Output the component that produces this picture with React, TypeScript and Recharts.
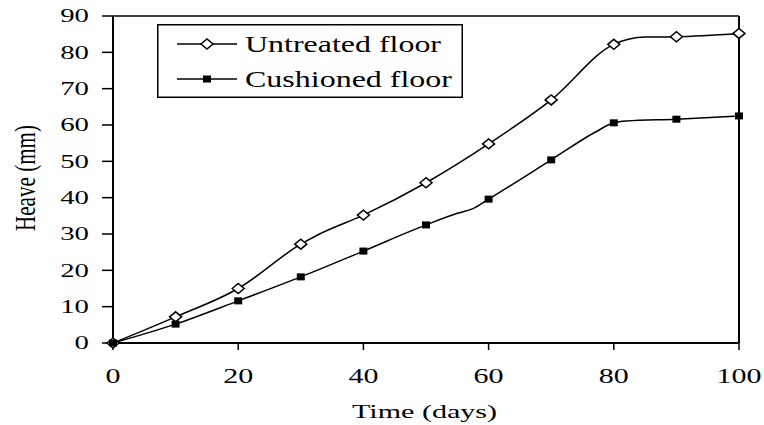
import React from 'react';
import {
  LineChart,
  Line,
  XAxis,
  YAxis,
  Legend,
  ReferenceLine,
} from 'recharts';

// measured points (markers at every 10 days, extra unmarked points for the curve shape)
const untreatedDays = [0, 10, 20, 30, 33, 40, 50, 60, 70, 80, 85, 90, 100];
const untreatedHeave = [0, 7.2, 15, 27.2, 30, 35.2, 44.1, 54.8, 66.9, 82.2, 84.2, 84.3, 85.2];

const cushionedDays = [0, 10, 20, 30, 40, 50, 55, 57.5, 60, 70, 77, 80, 82, 90, 100];
const cushionedHeave = [0, 5.2, 11.6, 18.2, 25.3, 32.5, 35.7, 37, 39.6, 50.4, 58, 60.6, 61.1, 61.6, 62.5];

const xTicks = [0, 20, 40, 60, 80, 100];
const yTicks = [0, 10, 20, 30, 40, 50, 60, 70, 80, 90];

const untreatedData = untreatedDays.map((day, i) => ({ day, heave: untreatedHeave[i] }));
const cushionedData = cushionedDays.map((day, i) => ({ day, heave: cushionedHeave[i] }));

const serif: React.CSSProperties = { fontFamily: "'Liberation Serif', 'Times New Roman', Times, serif" };

const Diamond = ({ cx, cy }: { cx: number; cy: number }) => (
  <path
    d={`M${cx - 6},${cy} L${cx},${cy - 5} L${cx + 6},${cy} L${cx},${cy + 5} Z`}
    fill="#fff"
    stroke="#000"
    strokeWidth={1.5}
  />
);

const Square = ({ cx, cy }: { cx: number; cy: number }) => (
  <rect x={cx - 4} y={cy - 3.5} width={8} height={7} fill="#000" />
);

const diamondDot = (props: any) =>
  props.payload.day % 10 === 0 ? (
    <Diamond key={props.key} cx={props.cx} cy={props.cy} />
  ) : (
    <g key={props.key} />
  );

const squareDot = (props: any) =>
  props.payload.day % 10 === 0 ? (
    <Square key={props.key} cx={props.cx} cy={props.cy} />
  ) : (
    <g key={props.key} />
  );

// the source picture is stretched sideways, so the labels are too
const XTick = (props: any) => {
  const { x, y, payload } = props;
  return (
    <text
      transform={`translate(${x},${y}) scale(1.5,1)`}
      textAnchor="middle"
      dy="0.71em"
      style={serif}
      fontSize={20}
      fill="#000"
    >
      {payload.value}
    </text>
  );
};

const YTick = (props: any) => {
  const { x, y, payload } = props;
  return (
    <text
      transform={`translate(${x},${y}) scale(1.6,1)`}
      textAnchor="end"
      dy="0.355em"
      style={serif}
      fontSize={18}
      fill="#000"
    >
      {payload.value}
    </text>
  );
};

const LegendBox = () => (
  <svg width={306} height={74} style={{ display: 'block' }}>
    <rect x={0.75} y={0.75} width={304.5} height={72.5} fill="#fff" stroke="#000" strokeWidth={1.5} />
    <line x1={20} x2={80} y1={20} y2={20} stroke="#000" strokeWidth={1.5} />
    <Diamond cx={50} cy={20} />
    <text x={88} y={28} style={serif} fontSize={23} textLength={196} lengthAdjust="spacingAndGlyphs">
      Untreated floor
    </text>
    <line x1={20} x2={80} y1={55} y2={55} stroke="#000" strokeWidth={1.5} />
    <Square cx={50} cy={55} />
    <text x={88} y={63} style={serif} fontSize={23} textLength={207} lengthAdjust="spacingAndGlyphs">
      Cushioned floor
    </text>
  </svg>
);

export default function App() {
  return (
    <div style={{ position: 'absolute', left: 0, top: 0, width: 764, height: 425, background: '#fff' }}>
      <LineChart width={764} height={425} margin={{ top: 16, right: 25, bottom: 0, left: 0 }}>
        <XAxis
          type="number"
          dataKey="day"
          domain={[0, 100]}
          ticks={xTicks}
          tickSize={7}
          tickMargin={19}
          tick={<XTick />}
          height={82}
          axisLine={{ stroke: '#000', strokeWidth: 2 }}
          tickLine={{ stroke: '#000', strokeWidth: 1.5 }}
        />
        <YAxis
          type="number"
          domain={[0, 90]}
          ticks={yTicks}
          width={113}
          tickSize={11}
          tickMargin={13}
          tick={<YTick />}
          axisLine={{ stroke: '#000', strokeWidth: 2 }}
          tickLine={{ stroke: '#000', strokeWidth: 1.5 }}
        />
        <ReferenceLine y={90} stroke="#000" strokeWidth={1.5} />
        <ReferenceLine x={100} stroke="#000" strokeWidth={2} />
        <Legend
          layout="vertical"
          align="center"
          verticalAlign="middle"
          content={() => <LegendBox />}
          wrapperStyle={{ left: 157, top: 24, width: 306, height: 74 }}
        />
        <Line
          data={untreatedData}
          dataKey="heave"
          type="monotone"
          stroke="#000"
          strokeWidth={1.5}
          dot={diamondDot}
          activeDot={false}
          isAnimationActive={false}
        />
        <Line
          data={cushionedData}
          dataKey="heave"
          type="monotone"
          stroke="#000"
          strokeWidth={1.5}
          dot={squareDot}
          activeDot={false}
          isAnimationActive={false}
        />
      </LineChart>
      {/* axis titles */}
      <svg
        width={764}
        height={425}
        style={{ position: 'absolute', left: 0, top: 0, pointerEvents: 'none' }}
      >
        <text
          x={352}
          y={418}
          style={serif}
          fontSize={19}
          fill="#000"
          textLength={145}
          lengthAdjust="spacingAndGlyphs"
        >
          Time (days)
        </text>
        <text
          x={-53}
          y={0}
          transform="translate(35,178) scale(1.4,1) rotate(-90)"
          style={serif}
          fontSize={21}
          fill="#000"
          textLength={106}
          lengthAdjust="spacingAndGlyphs"
        >
          Heave (mm)
        </text>
      </svg>
    </div>
  );
}
